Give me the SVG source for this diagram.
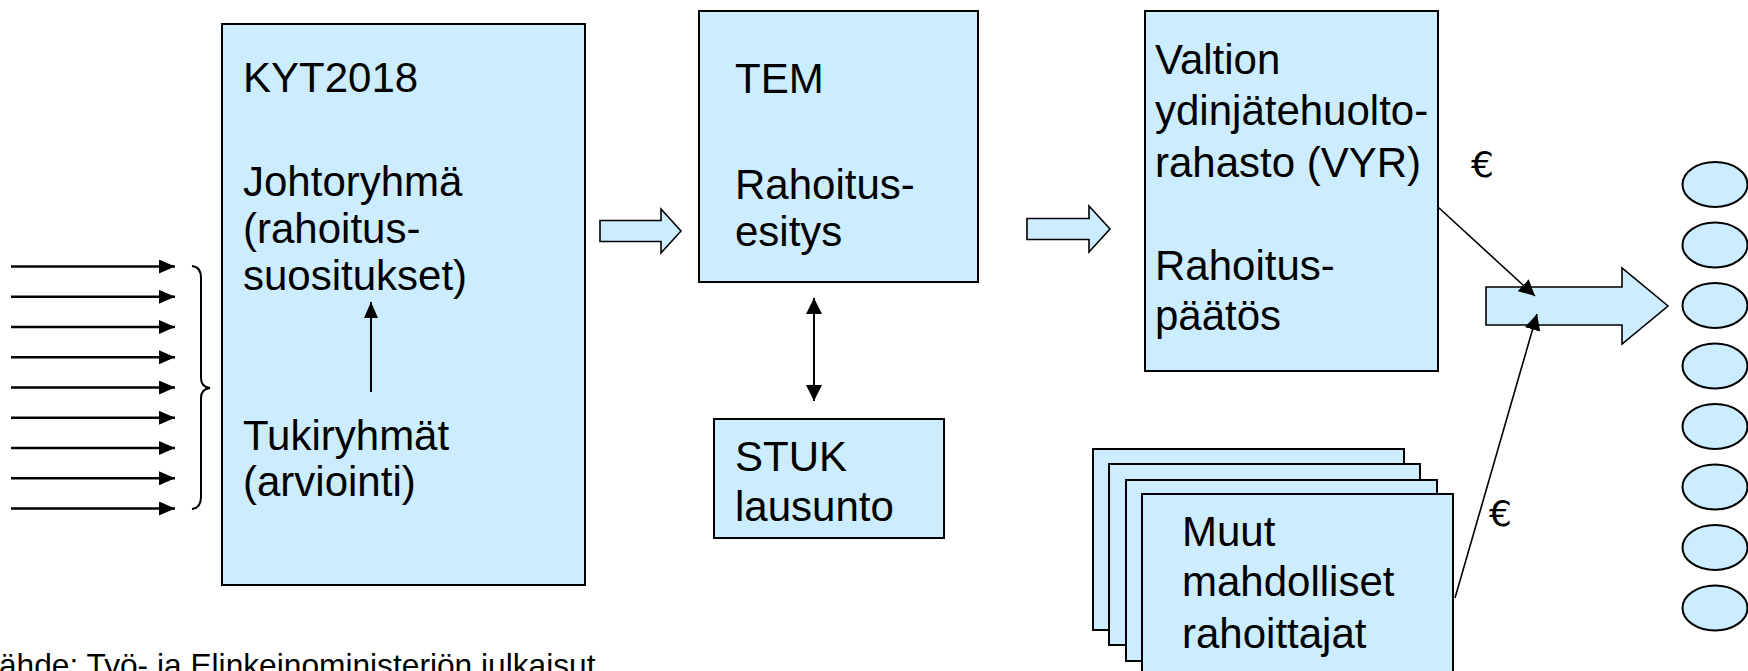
<svg xmlns="http://www.w3.org/2000/svg" width="1748" height="671" viewBox="0 0 1748 671">
<style>
.box{fill:#CCECFF;stroke:#000;stroke-width:2}
.harrow{fill:#CCECFF;stroke:#000;stroke-width:1.6;stroke-linejoin:miter}
.t{font-family:"Liberation Sans",Arial,sans-serif;font-size:42px;fill:#000}
.eur{font-family:"DejaVu Sans","Liberation Sans",sans-serif;font-size:36px;fill:#000}
.foot{font-family:"Liberation Sans",Arial,sans-serif;font-size:31.7px;fill:#000}
.ln{stroke:#000;fill:none}
.ell{fill:#CCECFF;stroke:#000;stroke-width:2}
</style>
<defs>
<marker id="ah" markerWidth="16" markerHeight="14" refX="16" refY="7" orient="auto-start-reverse" markerUnits="userSpaceOnUse"><path d="M0,0 L16,7 L0,14 z" fill="#000"/></marker>
<marker id="ahs" markerWidth="16" markerHeight="16" refX="16" refY="8" orient="auto-start-reverse" markerUnits="userSpaceOnUse"><path d="M0,0 L16,8 L0,16 z" fill="#000"/></marker>
</defs>
<rect width="1748" height="671" fill="#fff"/>

<g id="kyt">
  <rect class="box" x="222" y="24" width="363" height="561"/>
  <text class="t" x="243" y="92">KYT2018</text>
  <text class="t" x="243" y="196">Johtoryhmä</text>
  <text class="t" x="243" y="243">(rahoitus-</text>
  <text class="t" x="243" y="290">suositukset)</text>
  <text class="t" x="243" y="450">Tukiryhmät</text>
  <text class="t" x="243" y="496">(arviointi)</text>
</g>

<g id="tem">
  <rect class="box" x="699" y="11" width="279" height="271"/>
  <text class="t" x="735" y="93">TEM</text>
  <text class="t" x="735" y="199">Rahoitus-</text>
  <text class="t" x="735" y="246">esitys</text>
</g>

<g id="stuk">
  <rect class="box" x="714" y="419" width="230" height="119"/>
  <text class="t" x="735" y="471">STUK</text>
  <text class="t" x="735" y="521">lausunto</text>
</g>

<g id="vyr">
  <rect class="box" x="1145" y="11" width="293" height="360"/>
  <text class="t" x="1155" y="74">Valtion</text>
  <text class="t" x="1155" y="125">ydinjätehuolto-</text>
  <text class="t" x="1155" y="177">rahasto (VYR)</text>
  <text class="t" x="1155" y="280">Rahoitus-</text>
  <text class="t" x="1155" y="330">päätös</text>
</g>

<g id="muut">
  <rect class="box" x="1093" y="449" width="311" height="181"/>
  <rect class="box" x="1109" y="464" width="311" height="181"/>
  <rect class="box" x="1126" y="480" width="311" height="181"/>
  <rect class="box" x="1142" y="494" width="311" height="181"/>
  <text class="t" x="1182" y="546">Muut</text>
  <text class="t" x="1182" y="596">mahdolliset</text>
  <text class="t" x="1182" y="648">rahoittajat</text>
</g>

<g id="recipients">
  <ellipse class="ell" cx="1715" cy="184.5" rx="32.5" ry="22.5"/>
  <ellipse class="ell" cx="1715" cy="245" rx="32.5" ry="22.5"/>
  <ellipse class="ell" cx="1715" cy="305.5" rx="32.5" ry="22.5"/>
  <ellipse class="ell" cx="1715" cy="366" rx="32.5" ry="22.5"/>
  <ellipse class="ell" cx="1715" cy="426.5" rx="32.5" ry="22.5"/>
  <ellipse class="ell" cx="1715" cy="487" rx="32.5" ry="22.5"/>
  <ellipse class="ell" cx="1715" cy="547.5" rx="32.5" ry="22.5"/>
  <ellipse class="ell" cx="1715" cy="608" rx="32.5" ry="22.5"/>
</g>

<g id="connectors">
  <g id="inputs" class="ln" stroke-width="2.5" marker-end="url(#ah)">
    <line x1="11" y1="266.5" x2="175" y2="266.5"/>
    <line x1="11" y1="296.8" x2="175" y2="296.8"/>
    <line x1="11" y1="327" x2="175" y2="327"/>
    <line x1="11" y1="357.3" x2="175" y2="357.3"/>
    <line x1="11" y1="387.5" x2="175" y2="387.5"/>
    <line x1="11" y1="417.8" x2="175" y2="417.8"/>
    <line x1="11" y1="448" x2="175" y2="448"/>
    <line x1="11" y1="478.3" x2="175" y2="478.3"/>
    <line x1="11" y1="508.5" x2="175" y2="508.5"/>
  </g>
  <path id="brace" class="ln" stroke-width="2" d="M192,266 Q201,267 201,278 L201,378 Q201,387 210,388 Q201,389 201,398 L201,497 Q201,508 192,509"/>
  <line id="kyt-up" class="ln" stroke-width="2" x1="371" y1="392" x2="371" y2="302" marker-end="url(#ah)"/>
  <line id="tem-stuk" class="ln" stroke-width="2" x1="814" y1="298" x2="814" y2="401" marker-start="url(#ahs)" marker-end="url(#ahs)"/>
  <polygon id="harrow1" class="harrow" points="600,220.5 661,220.5 661,209 681,231 661,253 661,241.5 600,241.5"/>
  <polygon id="harrow2" class="harrow" points="1027,218.5 1089,218.5 1089,206 1110,229 1089,252 1089,239.5 1027,239.5"/>
  <polygon id="bigarrow" class="harrow" points="1486,287 1622,287 1622,268 1668,306 1622,344 1622,325 1486,325"/>
  <line id="vyr-flow" class="ln" stroke-width="1.6" x1="1438" y1="207" x2="1535" y2="296" marker-end="url(#ahs)"/>
  <line id="muut-flow" class="ln" stroke-width="1.6" x1="1455" y1="598" x2="1537" y2="314" marker-end="url(#ahs)"/>
</g>

<g id="euro-labels">
  <text class="eur" x="1471" y="177">€</text>
  <text class="eur" x="1489" y="526">€</text>
</g>

<g id="footer">
  <text class="foot" x="-1" y="676">ähde: Työ- ja Elinkeinoministeriön julkaisut</text>
</g>
</svg>
